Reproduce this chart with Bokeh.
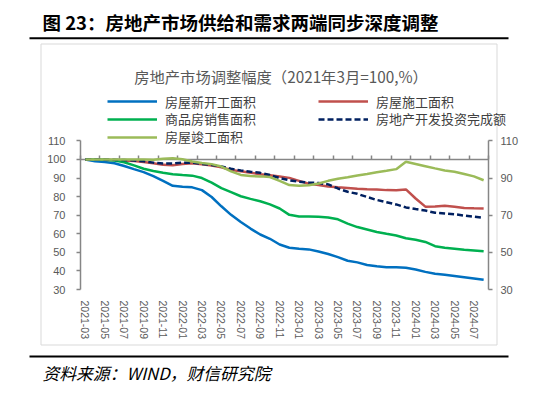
from bokeh.plotting import figure
from bokeh.models import (Range1d, LinearAxis, FixedTicker, Label, BoxAnnotation,
                          Legend, LegendItem, CustomJSTickFormatter)
from bokeh.embed import file_html
from bokeh.resources import INLINE

months = ["2021-03", "2021-04", "2021-05", "2021-06", "2021-07", "2021-08", "2021-09",
          "2021-10", "2021-11", "2021-12", "2022-01", "2022-02", "2022-03", "2022-04",
          "2022-05", "2022-06", "2022-07", "2022-08", "2022-09", "2022-10", "2022-11",
          "2022-12", "2023-01", "2023-02", "2023-03", "2023-04", "2023-05", "2023-06",
          "2023-07", "2023-08", "2023-09", "2023-10", "2023-11", "2023-12", "2024-01",
          "2024-02", "2024-03", "2024-04", "2024-05", "2024-06", "2024-07", "2024-08"]

new_starts = [100, 99.0, 98.6, 98.0, 96.5, 94.8, 93.2, 91.0, 88.5, 85.8, 85.3, 85.0,
              83.5, 79.8, 74.8, 70.2, 66.3, 62.8, 59.6, 57.3, 54.2, 52.5, 51.9, 51.6,
              50.5, 49.1, 47.4, 45.5, 44.6, 43.2, 42.5, 42.0, 42.0, 41.7, 40.8, 39.5,
              38.5, 38.0, 37.3, 36.6, 35.9, 35.2]
under_construction = [100, 100, 99.8, 99.6, 99.4, 99.2, 98.7, 98.0, 97.1, 96.9, 97.6, 98.0,
                      97.4, 96.7, 95.8, 94.3, 93.7, 92.8, 92.1, 91.5, 90.8, 90.1, 88.5, 86.9,
                      86.3, 85.4, 85.0, 84.7, 84.3, 84.0, 83.8, 83.5, 83.4, 83.9, 79.0, 74.6,
                      74.7, 75.1, 74.6, 73.9, 73.7, 73.6]
sales_area = [100, 100, 99.8, 99.4, 98.5, 96.8, 95.0, 93.8, 92.8, 92.1, 91.6, 91.3,
              90.0, 87.5, 84.6, 82.4, 80.2, 78.8, 77.5, 75.8, 73.6, 70.2, 69.3, 69.3,
              69.1, 68.8, 67.8, 65.5, 63.6, 62.3, 61.0, 60.0, 59.1, 57.6, 56.8, 55.6,
              53.3, 52.5, 52.0, 51.4, 51.0, 50.6]
investment = [100, 100, 99.9, 99.8, 99.7, 99.5, 99.0, 98.3, 97.8, 97.8, 98.3, 98.3,
              97.6, 97.0, 96.2, 95.0, 94.1, 93.4, 92.8, 91.6, 90.0, 88.8, 88.0, 87.6,
              87.3, 86.6, 84.4, 82.6, 81.5, 79.8, 78.2, 77.0, 75.8, 74.2, 73.3, 72.5,
              71.3, 70.9, 70.5, 69.8, 69.2, 68.6]
completions = [100, 100, 100, 100, 100, 100, 100, 99.8, 100.4, 100.7, 100.1, 98.9,
               98.1, 97.5, 96.2, 93.6, 91.7, 91.1, 90.9, 90.5, 88.5, 86.2, 85.8, 86.1,
               87.1, 88.5, 89.6, 90.4, 91.4, 92.2, 93.1, 93.9, 94.8, 98.8, 97.6, 96.4,
               95.2, 94.1, 93.4, 92.2, 90.9, 88.8]

series_names = ["房屋新开工面积", "房屋施工面积", "商品房销售面积", "房地产开发投资完成额", "房屋竣工面积"]
left_ticks = [30, 40, 50, 60, 70, 80, 90, 100, 110]
right_ticks = [30, 50, 70, 90, 110]
y_min, y_max, y_cross = 30, 110, 100

CJK = "Noto Sans CJK SC"
NUM = "Liberation Sans"
AXIS_C = "#868686"
LABEL_C = "#595959"

# ---- layout (canvas pixels) ----
W, H = 550, 400
PX_L, PX_R = 80.0, 488.0       # plot area left/right
PX_T, PX_B = 140.4, 289.0      # y of y_max / y_min
n = len(months)
SX = (PX_R - PX_L) / n
SY = (PX_B - PX_T) / (y_max - y_min)

def dx(px):
    return -0.5 + (px - PX_L) / SX

def dy(py):
    return y_min + (PX_B - py) / SY

idx = list(range(n))

p = figure(width=W, height=H, output_backend="svg", toolbar_location=None,
           x_range=Range1d(dx(0), dx(W)), y_range=Range1d(dy(H), dy(0)),
           x_axis_location=None, y_axis_location=None,
           min_border=0, min_border_left=0, min_border_right=0,
           min_border_top=0, min_border_bottom=0)
p.outline_line_color = None
p.xgrid.visible = False
p.ygrid.visible = False
p.background_fill_color = "white"
p.border_fill_color = "white"

def style_y(ax, standoff):
    ax.axis_line_color = AXIS_C
    ax.axis_line_width = 1.5
    ax.major_tick_line_color = AXIS_C
    ax.major_tick_line_width = 1.5
    ax.major_tick_out = 4
    ax.major_tick_in = 0
    ax.minor_tick_line_color = None
    ax.major_label_standoff = standoff
    ax.major_label_text_font = NUM
    ax.major_label_text_font_size = "11px"
    ax.major_label_text_color = LABEL_C

ly = LinearAxis(ticker=FixedTicker(ticks=left_ticks), fixed_location=-0.5,
                bounds=(y_min, y_max))
style_y(ly, 11)
p.add_layout(ly, "left")

ry = LinearAxis(ticker=FixedTicker(ticks=right_ticks), fixed_location=n - 0.5,
                bounds=(y_min, y_max))
style_y(ry, 8)
p.add_layout(ry, "right")

# category labels along the bottom
label_idx = idx[::2]
bx = LinearAxis(ticker=FixedTicker(ticks=label_idx), fixed_location=y_min,
                major_label_overrides={i: months[i] for i in label_idx})
bx.axis_line_color = None
bx.major_tick_line_color = None
bx.minor_tick_line_color = None
bx.major_label_orientation = "vertical"
bx.major_label_standoff = 5
bx.major_label_text_font = NUM
bx.major_label_text_font_size = "10.5px"
bx.major_label_text_color = LABEL_C
p.add_layout(bx, "below")

# category axis line crossing at 100, ticks between every two categories
tick_x = [i - 0.5 for i in label_idx] + [n - 0.5]
cx = LinearAxis(ticker=FixedTicker(ticks=tick_x), fixed_location=y_cross,
                bounds=(-0.5, n - 0.5), formatter=CustomJSTickFormatter(code="return ''"),
                level="underlay")
cx.axis_line_color = AXIS_C
cx.axis_line_width = 1.5
cx.major_tick_line_color = AXIS_C
cx.major_tick_line_width = 1.5
cx.major_tick_in = 4
cx.major_tick_out = 0
cx.minor_tick_line_color = None
p.add_layout(cx, "below")

LW = 2.5
r_new = p.line(idx, new_starts, line_color="#0070C0", line_width=LW)
r_con = p.line(idx, under_construction, line_color="#C0504D", line_width=LW)
r_sal = p.line(idx, sales_area, line_color="#00B050", line_width=LW)
r_inv = p.line(idx, investment, line_color="#002060", line_width=LW, line_dash="6 3")
r_com = p.line(idx, completions, line_color="#9BBB59", line_width=LW)

ROW_H = 18

def add_legend(label, renderer, px_left, py_center):
    lg = Legend(items=[LegendItem(label=label, renderers=[renderer])],
                location=(px_left, H - (py_center + ROW_H / 2)))
    lg.padding = 0
    lg.margin = 0
    lg.spacing = 0
    lg.glyph_width = 50
    lg.glyph_height = ROW_H
    lg.label_height = ROW_H
    lg.label_standoff = 8
    lg.label_text_font = CJK
    lg.label_text_font_size = "13px"
    lg.label_text_color = "#404040"
    lg.border_line_color = None
    lg.background_fill_alpha = 0
    p.add_layout(lg, "center")

add_legend(series_names[0], r_new, 107, 101.6)
add_legend(series_names[2], r_sal, 107, 119.3)
add_legend(series_names[4], r_com, 107, 137.1)
add_legend(series_names[1], r_con, 318, 101.6)
add_legend(series_names[3], r_inv, 318, 119.3)

def text_at(px, py, text, size, color="black", style="normal", align="left"):
    p.add_layout(Label(x=dx(px), y=dy(py), text=text, text_font=CJK, text_font_size=size,
                       text_color=color, text_font_style=style, text_align=align,
                       text_baseline="middle"))

text_at(42, 21, "图 23：房地产市场供给和需求两端同步深度调整", "18.5px", style="bold")
text_at(280.5, 75, "房地产市场调整幅度（2021年3月=100,%）", "15.3px", color=LABEL_C, align="center")
text_at(42, 372, "资料来源：WIND，财信研究院", "16.8px", style="italic")

def box(l, r, t, b, fill=None, line=None):
    p.add_layout(BoxAnnotation(left=dx(l), right=dx(r), top=dy(t), bottom=dy(b),
                               fill_color=fill if fill else "white",
                               fill_alpha=1 if fill else 0,
                               line_color=line, line_alpha=1 if line else 0,
                               line_width=1, level="underlay"))

box(29, 508, 36.7, 38.7, fill="black")
box(29, 508, 355, 357, fill="black")
box(40.5, 496.5, 43.5, 344.5, line="#d9d9d9")

open("out.html", "w").write(file_html(p, INLINE))
